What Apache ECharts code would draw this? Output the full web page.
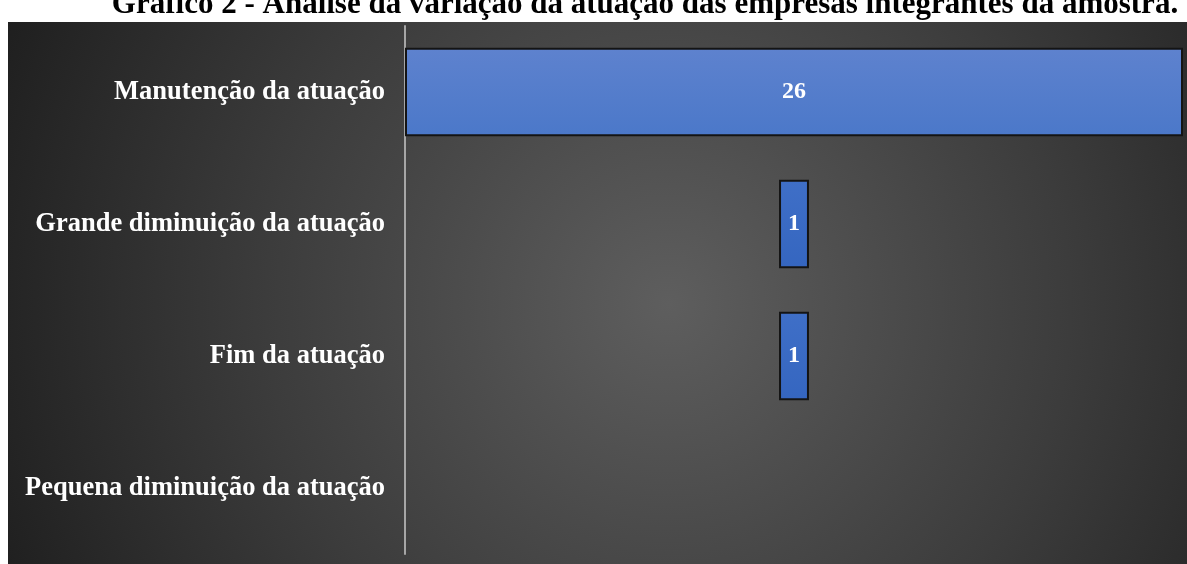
<!DOCTYPE html>
<html>
<head>
<meta charset="utf-8">
<script src="https://cdn.jsdelivr.net/npm/echarts@6/dist/echarts.min.js"></script>
<style>
html,body{margin:0;padding:0;background:#fff;}
#c{width:1187px;height:564px;}
</style>
</head>
<body>
<div id="c"></div>
<script>
const categories = ['Manutenção da atuação', 'Grande diminuição da atuação', 'Fim da atuação', 'Pequena diminuição da atuação'];
const values = [26, 1, 1, 0];
const titleText = 'Gráfico 2 - Análise da variação da atuação das empresas integrantes da amostra.';

const maxVal = Math.max(...values);
// transparent spacer so each bar is centred (funnel layout)
const spacer = values.map(v => (maxVal - v) / 2);
const barColors = [
  ['#5e82ce', '#4b78c9'],
  ['#3f6fc7', '#3566c0'],
  ['#3f6fc7', '#3566c0'],
  ['#3f6fc7', '#3566c0']
];

const chart = echarts.init(document.getElementById('c'), null, {renderer: 'canvas'});
chart.setOption({
  animation: false,
  graphic: [
    {
      type: 'rect', z: -10, silent: true,
      shape: {x: 8, y: 22, width: 1179, height: 542},
      style: {
        fill: {
          type: 'radial', x: 0.56, y: 0.52, r: 1.35,
          colorStops: [{offset: 0, color: '#5e5e5e'}, {offset: 0.55, color: '#3c3c3c'}, {offset: 1, color: '#1e1e1e'}]
        }
      }
    },
    {
      type: 'text', z: 10, silent: true,
      style: {
        x: 645, y: 20, text: titleText, fill: '#000',
        align: 'center', verticalAlign: 'bottom',
        font: 'bold 31px "Liberation Serif", "Times New Roman", serif'
      }
    }
  ],
  grid: {left: 405, right: 4, top: 26, bottom: 10, containLabel: false},
  xAxis: {type: 'value', min: 0, max: maxVal, show: false},
  yAxis: {
    type: 'category', data: categories, inverse: true,
    axisLine: {show: true, lineStyle: {color: '#a6a6a6', width: 2}},
    axisTick: {show: false},
    axisLabel: {
      color: '#ffffff', fontWeight: 'bold', fontSize: 26.5, margin: 20,
      fontFamily: '"Liberation Serif", "Times New Roman", serif'
    },
    splitLine: {show: false}
  },
  series: [
    {
      type: 'bar', stack: 'f', data: spacer, silent: true,
      itemStyle: {color: 'rgba(0,0,0,0)'}, barCategoryGap: '33%'
    },
    {
      type: 'bar', stack: 'f', barCategoryGap: '33%',
      data: values.map((v, i) => ({
        value: v,
        itemStyle: {
          color: {type: 'linear', x: 0, y: 0, x2: 0, y2: 1,
            colorStops: [{offset: 0, color: barColors[i][0]}, {offset: 1, color: barColors[i][1]}]},
          borderColor: '#141414', borderWidth: v > 0 ? 2 : 0
        }
      })),
      label: {
        show: true, position: 'inside', color: '#ffffff', fontWeight: 'bold', fontSize: 24,
        fontFamily: '"Liberation Serif", "Times New Roman", serif',
        formatter: p => p.value > 0 ? String(p.value) : ''
      }
    }
  ]
});
</script>
</body>
</html>
